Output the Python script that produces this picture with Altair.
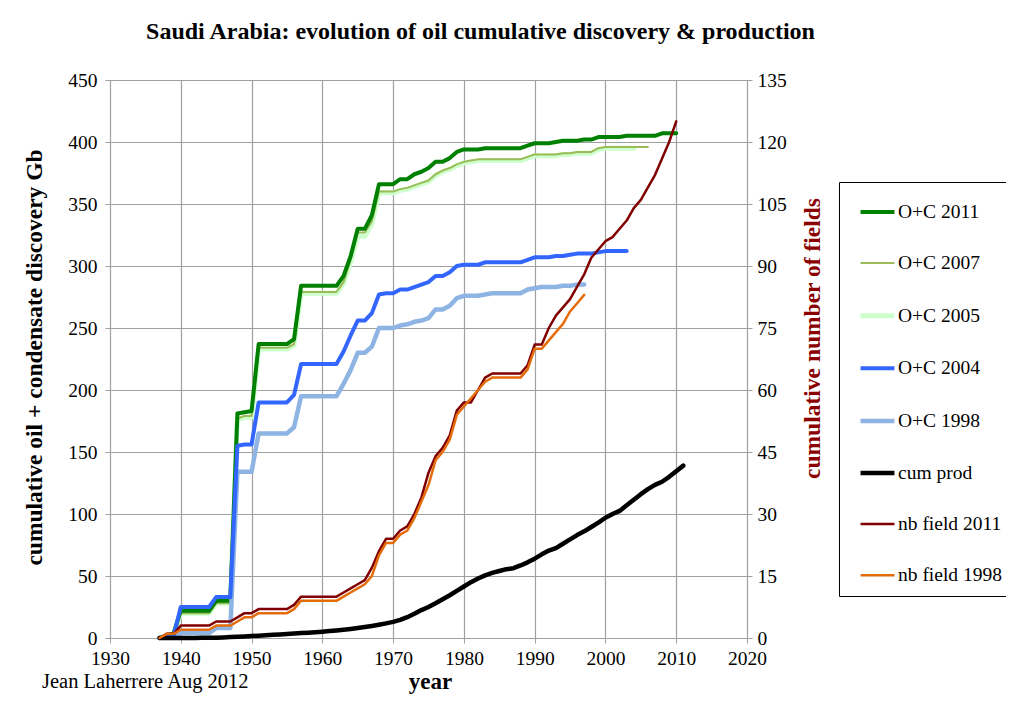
import altair as alt
import pandas as pd

# ---------------- data ----------------
series_names = ["O+C 2011", "O+C 2007", "O+C 2005", "O+C 2004", "O+C 1998",
                "cum prod", "nb field 2011", "nb field 1998"]

years_oc2011 = list(range(1937, 2011))
oc2011 = [0, 2, 4, 22, 22, 22, 22, 22, 30, 30, 30, 181, 182, 183, 237, 237, 237, 237, 237, 241,
          284, 284, 284, 284, 284, 284, 292, 308, 330, 330, 341, 366, 366, 366, 370, 370, 374, 376,
          379, 384, 384, 387, 392, 394, 394, 394, 395, 395, 395, 395, 395, 395, 397, 399, 399, 399,
          400, 401, 401, 401, 402, 402, 404, 404, 404, 404, 405, 405, 405, 405, 405, 407, 407, 407]

years_oc2007 = list(range(1937, 2007))
oc2007 = [0, 2, 3, 20, 20, 20, 20, 20, 28, 28, 28, 177, 179, 179, 234, 234, 234, 234, 234, 237,
          279, 279, 279, 279, 279, 279, 287, 305, 327, 327, 336, 360, 360, 360, 362, 363, 365, 367,
          369, 374, 377, 379, 382, 384, 385, 386, 386, 386, 386, 386, 386, 386, 388, 390, 390, 390,
          390, 391, 391, 392, 392, 392, 395, 396, 396, 396, 396, 396, 396, 396]

years_oc2005 = list(range(1937, 2005))
oc2005 = [0, 2, 3, 20, 20, 20, 20, 20, 28, 28, 28, 176, 178, 178, 233, 233, 233, 233, 233, 236,
          278, 278, 278, 278, 278, 278, 286, 303, 324, 324, 334, 359, 359, 359, 361, 362, 364, 366,
          368, 373, 376, 378, 381, 383, 384, 385, 385, 385, 385, 385, 385, 385, 387, 389, 389, 389,
          389, 390, 390, 391, 391, 391, 394, 395, 395, 395, 395, 395]

years_oc2004 = list(range(1937, 2004))
oc2004 = [0, 1, 2, 25, 25, 25, 25, 25, 33, 33, 33, 155, 156, 156, 190, 190, 190, 190, 190, 196,
          221, 221, 221, 221, 221, 221, 231, 244, 256, 256, 262, 277, 278, 278, 281, 281, 283, 285,
          287, 292, 292, 295, 300, 301, 301, 301, 303, 303, 303, 303, 303, 303, 305, 307, 307, 307,
          308, 308, 309, 310, 310, 310, 311, 312, 312, 312, 312]

years_oc1998 = list(range(1937, 1998))
oc1998 = [0, 1, 2, 4, 4, 4, 4, 4, 8, 8, 8, 134, 134, 134, 165, 165, 165, 165, 165, 170,
          195, 195, 195, 195, 195, 195, 205, 216, 230, 230, 235, 250, 250, 250, 252, 253, 255, 256,
          258, 265, 265, 268, 274, 276, 276, 276, 277, 278, 278, 278, 278, 278, 281, 282, 283, 283,
          283, 284, 284, 285, 285]

years_cumprod = list(range(1937, 2012))
cumprod = [0, 0, 0, 0.1, 0.1, 0.1, 0.2, 0.2, 0.3, 0.5, 0.8, 1.1, 1.3, 1.6, 1.9, 2.3, 2.6, 2.9,
           3.3, 3.6, 4.0, 4.3, 4.7, 5.1, 5.6, 6.1, 6.7, 7.3, 8.0, 8.8, 9.7, 10.7, 11.8, 13.0,
           14.6, 16.8, 19.5, 22.5, 25.0, 28.0, 31.3, 34.5, 38.0, 41.5, 45.0, 48.0, 50.5, 52.5,
           54.0, 55.5, 56.3, 58.5, 61.0, 64.0, 67.5, 70.5, 72.5, 76.0, 79.5, 83.0, 86.0, 89.5,
           93.0, 97.0, 100.0, 102.5, 107.0, 111.5, 116.0, 120.0, 123.5, 126.0, 130.0, 134.5, 139.0]

years_nb2011 = list(range(1937, 2011))
nb2011 = [0, 1, 1, 3, 3, 3, 3, 3, 4, 4, 4, 5, 6, 6, 7, 7, 7, 7, 7, 8,
          10, 10, 10, 10, 10, 10, 11, 12, 13, 14, 17, 21, 24, 24, 26, 27, 30, 34,
          40, 44, 46, 49, 55, 57, 57, 60, 63, 64, 64, 64, 64, 64, 66, 71, 71, 75,
          78, 80, 82, 85, 88, 92, 94, 96, 97, 99, 101, 104, 106, 109, 112, 116, 120, 125]

years_nb1998 = list(range(1937, 1998))
nb1998 = [0, 1, 1, 2, 2, 2, 2, 2, 3, 3, 3, 4, 5, 5, 6, 6, 6, 6, 6, 7,
          9, 9, 9, 9, 9, 9, 10, 11, 12, 13, 15, 20, 23, 23, 25, 26, 29, 33,
          37, 43, 45, 48, 54, 56, 58, 60, 62, 63, 63, 63, 63, 63, 65, 70, 70, 72,
          74, 76, 79, 81, 83]

x_ticks = list(range(1930, 2021, 10))
left_ticks = list(range(0, 451, 50))
right_ticks = list(range(0, 136, 15))

title_text = "Saudi Arabia: evolution of oil cumulative discovery & production"
left_title = "cumulative oil + condensate discovery Gb"
right_title = "cumulative number of fields"
x_title = "year"
footnote = ["Jean Laherrere Aug 2012"]

# ---------------- styles ----------------
colors = ["#008000", "#9BBB59", "#CCFFCC", "#3366FF", "#8DB4E3",
          "#000000", "#800000", "#E46C0A"]
widths = [4, 2, 5, 4, 4.5, 4.5, 2.5, 2.5]
FONT = "Liberation Serif"
GRID = "#A0A0A0"

color_scale = alt.Scale(domain=series_names, range=colors)
width_scale = alt.Scale(type="ordinal", domain=series_names, range=widths)

legend = alt.Legend(
    title=None, orient="none", legendX=729, legendY=102,
    symbolType="stroke", symbolSize=1150, symbolOffset=8,
    labelFont=FONT, labelFontSize=19.5, labelColor="black", labelOffset=1,
    rowPadding=23.1, padding=11, strokeColor="black", fillColor="white", labelLimit=300,
)

x_enc = alt.X("year:Q", scale=alt.Scale(domain=[1930, 2020], nice=False),
              axis=alt.Axis(values=x_ticks, format="d", title=x_title,
                            labelFont=FONT, labelFontSize=19.5, labelColor="black",
                            labelFlush=False, labelOverlap=False,
                            labelPadding=6, tickSize=5, tickColor=GRID, domainColor=GRID,
                            grid=True, gridColor=GRID, gridWidth=1.2,
                            titleFont=FONT, titleFontSize=23, titleFontWeight="bold",
                            titleColor="black", titleX=320, titleY=50,
                            titleBaseline="alphabetic", titleAlign="center"))

y_left = alt.Y("value:Q", scale=alt.Scale(domain=[0, 450], nice=False),
               axis=alt.Axis(values=left_ticks, title=left_title, orient="left",
                             labelFont=FONT, labelFontSize=19.5, labelColor="black",
                             labelFlush=False, labelOverlap=False,
                             labelPadding=8, tickSize=5, tickColor=GRID, domainColor=GRID,
                             grid=True, gridColor=GRID, gridWidth=1.2,
                             titleFont=FONT, titleFontSize=23.5, titleFontWeight="bold",
                             titleColor="black", titleAngle=270, titleX=-76, titleY=277,
                             titleBaseline="middle", titleAlign="center"))

y_right = alt.Y("value:Q", scale=alt.Scale(domain=[0, 135], nice=False),
                axis=alt.Axis(values=right_ticks, title=right_title, orient="right",
                              labelFont=FONT, labelFontSize=19.5, labelColor="black",
                              labelFlush=False, labelOverlap=False,
                              labelPadding=5, tickSize=5, tickColor=GRID, domainColor=GRID,
                              grid=False,
                              titleFont=FONT, titleFontSize=23.5, titleFontWeight="bold",
                              titleColor="#8B0000", titleAngle=270, titleX=65, titleY=258,
                              titleBaseline="middle", titleAlign="center"))


def line(name, years, values, y_enc):
    df = pd.DataFrame({"year": years, "value": values, "series": name})
    return alt.Chart(df).mark_line(strokeJoin="round", strokeCap="round").encode(
        x=x_enc, y=y_enc,
        color=alt.Color("series:N", scale=color_scale, legend=legend),
        strokeWidth=alt.StrokeWidth("series:N", scale=width_scale, legend=legend),
    )


note = alt.Chart(pd.DataFrame({"t": footnote})).mark_text(
    font=FONT, fontSize=20.5, align="left", baseline="alphabetic", color="black"
).encode(x=alt.value(-68), y=alt.value(608), text="t:N")

left = alt.layer(
    line("O+C 2005", years_oc2005, oc2005, y_left),
    line("O+C 2007", years_oc2007, oc2007, y_left),
    line("O+C 2011", years_oc2011, oc2011, y_left),
    line("O+C 1998", years_oc1998, oc1998, y_left),
    line("O+C 2004", years_oc2004, oc2004, y_left),
    line("cum prod", years_cumprod, cumprod, y_left),
    note,
)
right = alt.layer(
    line("nb field 2011", years_nb2011, nb2011, y_right),
    line("nb field 1998", years_nb1998, nb1998, y_right),
)

chart = alt.layer(left, right).resolve_scale(y="independent").properties(
    width=637, height=558,
    padding={"left": 102, "top": 72, "right": 259, "bottom": 57},
    autosize=alt.AutoSizeParams(type="none"),
    title=alt.TitleParams(title_text, font=FONT, fontSize=24, fontWeight="bold",
                          color="black", anchor="middle", dx=52, offset=26),
    background="white",
).configure(font=FONT).configure_view(stroke=None).configure_axis(
    labelFont=FONT, titleFont=FONT
).configure_legend(labelFont=FONT)

chart.save("out.html", embed_options={"renderer": "svg", "actions": False})
